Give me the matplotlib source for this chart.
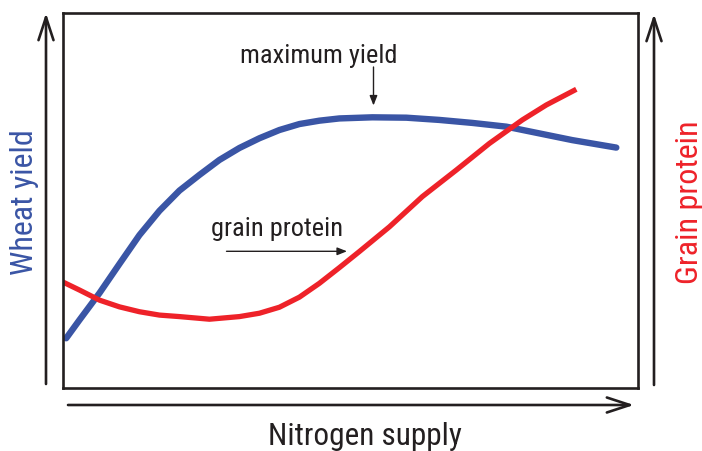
import matplotlib
matplotlib.use("Agg")
import matplotlib.pyplot as plt
from matplotlib import font_manager
from matplotlib.patches import FancyArrowPatch

# Data (arbitrary units, 0-100)
yield_x = [0.64, 2.96, 6.45, 9.93, 13.41, 16.90, 20.38, 23.87, 27.35, 30.84, 34.32, 37.80,
           41.29, 44.77, 48.26, 54.0, 59.93, 65.68, 71.43, 77.35, 83.10, 88.85, 96.52]
yield_y = [13.3, 18.2, 25.4, 33.2, 40.9, 47.4, 52.8, 57.0, 61.0, 64.2, 66.8, 69.0,
           70.6, 71.5, 72.1, 72.4, 72.3, 71.7, 70.9, 69.9, 68.1, 66.3, 64.3]
protein_x = [0.0, 2.96, 6.45, 9.93, 13.41, 16.90, 20.38, 25.61, 30.84, 34.32, 37.80, 41.29,
             44.77, 48.26, 51.74, 56.97, 62.72, 68.64, 74.39, 80.14, 84.32, 89.55]
protein_y = [28.4, 26.2, 23.5, 21.7, 20.4, 19.5, 19.1, 18.4, 19.1, 20.0, 21.6, 24.3,
             28.0, 32.2, 36.5, 43.1, 51.2, 58.3, 65.4, 71.7, 75.7, 79.9]

names = {f.name for f in font_manager.fontManager.ttflist}
FONT_FAMILY = 'Roboto Condensed' if 'Roboto Condensed' in names else 'Roboto'
plt.rcParams['font.family'] = [FONT_FAMILY, 'DejaVu Sans']

BLUE = '#3a55a5'
RED = '#ee2229'
INK = '#231f20'

W, H = 702, 452
fig = plt.figure(figsize=(W/100, H/100), dpi=100)
ax = fig.add_axes([62.5/W, 1-389/H, (638-62.5)/W, (389-14)/H])
ax.set_xlim(0, 100.3)
ax.set_ylim(0, 100.3)
ax.set_xticks([])
ax.set_yticks([])
for s in ax.spines.values():
    s.set_linewidth(1.9)
    s.set_color(INK)

ax.plot(yield_x, yield_y, color=BLUE, lw=4.6, solid_capstyle='round', solid_joinstyle='round')
ax.plot(protein_x, protein_y, color=RED, lw=3.8, solid_capstyle='butt', solid_joinstyle='round')

def fp(x, y):
    return (x/W, 1-y/H)

# annotations inside
fig.text(*fp(319, 63), 'maximum yield', ha='center', va='baseline', fontsize=19, color=INK)
fig.add_artist(FancyArrowPatch(fp(373.5, 68), fp(373.5, 106.5), transform=fig.transFigure,
               arrowstyle='-|>,head_length=5.8,head_width=2.3', color=INK, lw=1.0,
               mutation_scale=1, shrinkA=0, shrinkB=0))
fig.text(*fp(277.5, 236), 'grain protein', ha='center', va='baseline', fontsize=19, color=INK)
fig.add_artist(FancyArrowPatch(fp(226.5, 252.3), fp(347, 252.3), transform=fig.transFigure,
               arrowstyle='-|>,head_length=5.8,head_width=2.3', color=INK, lw=1.0,
               mutation_scale=1, shrinkA=0, shrinkB=0))

def axarrow(p0, p1):
    fig.add_artist(FancyArrowPatch(fp(*p0), fp(*p1), transform=fig.transFigure,
                   arrowstyle='->,head_length=16.5,head_width=5.4', color=INK, lw=1.9,
                   mutation_scale=1, shrinkA=0, shrinkB=0))

axarrow((46, 385), (46, 14))
axarrow((654, 386), (654, 15))
axarrow((68, 406), (634, 406))

fig.text(*fp(25, 202.5), 'Wheat yield', rotation=90, ha='center', va='center', fontsize=23, color=BLUE)
fig.text(*fp(689, 202.5), 'Grain protein', rotation=90, ha='center', va='center', fontsize=23, color=RED)
fig.text(*fp(365, 445), 'Nitrogen supply', ha='center', va='baseline', fontsize=22.5, color=INK)

fig.savefig('out.png', dpi=100)
